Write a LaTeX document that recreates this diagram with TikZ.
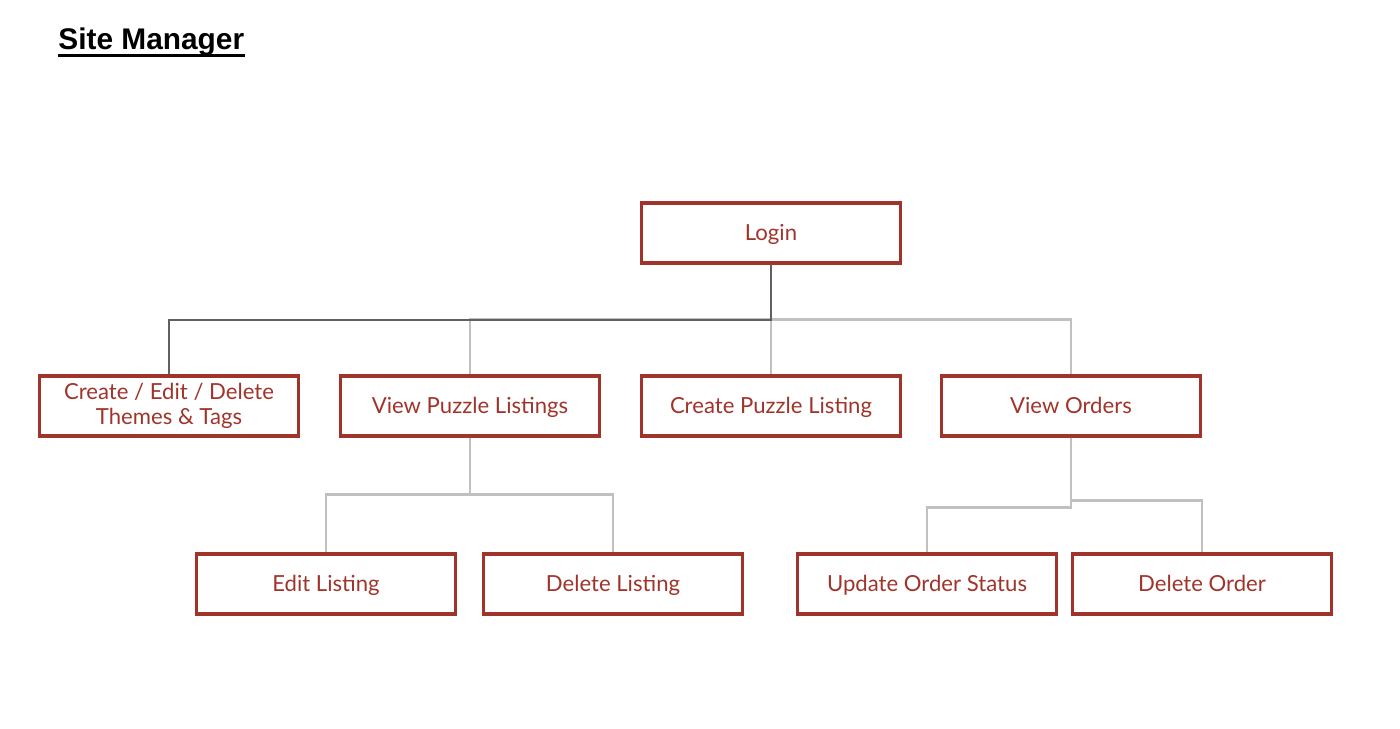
\documentclass[tikz,border=0pt]{standalone}
\usepackage{fontspec}
\setmainfont{Lato}
\newfontfamily\titlefont{Liberation Sans}
\usetikzlibrary{positioning}
\definecolor{boxred}{RGB}{160,52,42}
\definecolor{linegray}{RGB}{192,192,192}
\definecolor{linedark}{RGB}{96,96,96}
\tikzset{
    page/.style={x=0.02cm, y=-0.02cm},
    task/.style={draw=boxred, line width=1.8pt, text=boxred, align=center,
        minimum width=5.18cm, minimum height=1.2cm, inner sep=0pt,
        text height=0.9em, text depth=0pt,
        font=\fontsize{12.6}{14.2}\selectfont},
    tasktwo/.style={task, text height=, text depth=},
    link/.style={draw=linegray, line width=1.6pt},
    linkdark/.style={draw=linedark, line width=1.1pt}
}

\begin{document}
\begin{tikzpicture}[page]
    \useasboundingbox (0,0) rectangle (1400,728);

    \node[anchor=base west, inner sep=0pt, font=\titlefont\fontsize{17}{20}\selectfont\bfseries] (title) at (58,49) {Site Manager};
    \draw[line width=1.5pt] ([yshift=-3.6pt]title.base west) -- ([yshift=-3.6pt]title.base east);

    \node[task] (login) at (771,233) {Login};

    \node[tasktwo] (themes) at (169,406) {Create / Edit / Delete\\Themes \& Tags};
    \node[task] (viewlist) at (470,406) {View Puzzle Listings};
    \node[task] (createlist) at (771,406) {Create Puzzle Listing};
    \node[task] (vieworders) at (1071,406) {View Orders};

    \node[task] (editlist) at (326,584) {Edit Listing};
    \node[task] (deletelist) at (613,584) {Delete Listing};
    \node[task] (updateorder) at (927,584) {Update Order Status};
    \node[task] (deleteorder) at (1202,584) {Delete Order};

    % login to the second row
    \draw[link] (login.south) -- ++(0,55) -| (viewlist.north);
    \draw[link] (login.south) -- (createlist.north);
    \draw[link] (login.south) -- ++(0,55) -| (vieworders.north);
    \draw[linkdark] (login.south) -- ++(0,55) -| (themes.north);

    % listings and orders
    \draw[link] (viewlist.south) -- ++(0,57) -| (editlist.north);
    \draw[link] (viewlist.south) -- ++(0,57) -| (deletelist.north);
    \draw[link] (vieworders.south) -- ++(0,70) -| (updateorder.north);
    \draw[link] (vieworders.south) -- ++(0,63) -| (deleteorder.north);
\end{tikzpicture}
\end{document}
